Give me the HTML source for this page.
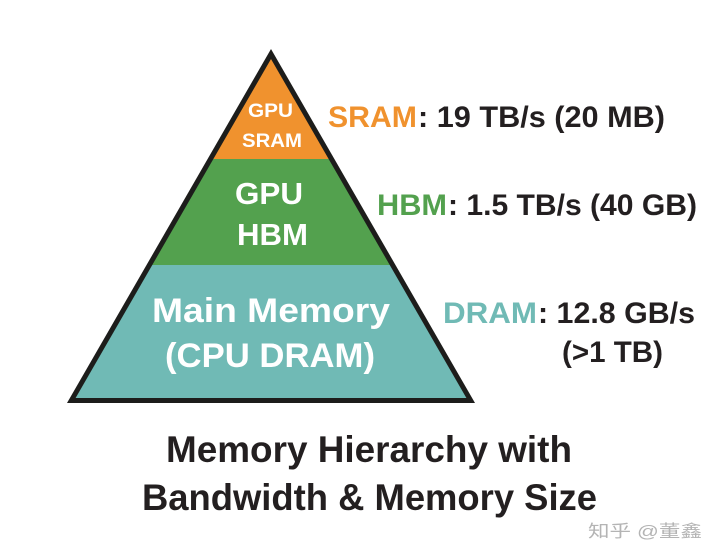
<!DOCTYPE html>
<html>
<head>
<meta charset="utf-8">
<style>
  html, body { margin: 0; padding: 0; background: #ffffff; }
  body { width: 720px; height: 559px; overflow: hidden; }
  svg { display: block; }
  text { font-family: "Liberation Sans", "Noto Sans CJK SC", sans-serif; font-weight: bold; }
</style>
</head>
<body>
<svg width="720" height="559" viewBox="0 0 720 559" xmlns="http://www.w3.org/2000/svg">
  <rect width="720" height="559" fill="#ffffff"/>
  <defs>
    <clipPath id="tri">
      <polygon points="271,59 466.4,398 75.6,398"/>
    </clipPath>
  </defs>
  <!-- outer black triangle (stroke) -->
  <polygon points="271,49 475,403 67,403" fill="#1d1d1b"/>
  <!-- bands -->
  <g clip-path="url(#tri)">
    <rect x="0" y="0" width="720" height="159" fill="#f0922e"/>
    <rect x="0" y="159" width="720" height="106" fill="#53a14e"/>
    <rect x="0" y="265" width="720" height="140" fill="#70bab5"/>
  </g>

  <!-- pyramid labels -->
  <text x="248" y="117" font-size="19" fill="#ffffff" textLength="45" lengthAdjust="spacingAndGlyphs">GPU</text>
  <text x="242" y="147" font-size="19" fill="#ffffff" textLength="60" lengthAdjust="spacingAndGlyphs">SRAM</text>

  <text x="235" y="204" font-size="31" fill="#ffffff" textLength="68" lengthAdjust="spacingAndGlyphs">GPU</text>
  <text x="237" y="245" font-size="31" fill="#ffffff" textLength="71" lengthAdjust="spacingAndGlyphs">HBM</text>

  <text x="152" y="322" font-size="34" fill="#ffffff" textLength="238" lengthAdjust="spacingAndGlyphs">Main Memory</text>
  <text x="165" y="367" font-size="34" fill="#ffffff" textLength="210" lengthAdjust="spacingAndGlyphs">(CPU DRAM)</text>

  <!-- right labels -->
  <text x="328" y="127" font-size="30" fill="#f0922e" textLength="89" lengthAdjust="spacingAndGlyphs">SRAM</text>
  <text x="418" y="127" font-size="30" fill="#231f20" textLength="247" lengthAdjust="spacingAndGlyphs">: 19 TB/s (20 MB)</text>

  <text x="377" y="215" font-size="30" fill="#53a14e" textLength="70" lengthAdjust="spacingAndGlyphs">HBM</text>
  <text x="448" y="215" font-size="30" fill="#231f20" textLength="249" lengthAdjust="spacingAndGlyphs">: 1.5 TB/s (40 GB)</text>

  <text x="443" y="323" font-size="30" fill="#70bab5" textLength="94" lengthAdjust="spacingAndGlyphs">DRAM</text>
  <text x="538" y="323" font-size="30" fill="#231f20" textLength="157" lengthAdjust="spacingAndGlyphs">: 12.8 GB/s</text>
  <text x="562" y="362" font-size="30" fill="#231f20" textLength="101" lengthAdjust="spacingAndGlyphs">(&gt;1 TB)</text>

  <!-- title -->
  <text x="166" y="462" font-size="37" fill="#231f20" textLength="406" lengthAdjust="spacingAndGlyphs">Memory Hierarchy with</text>
  <text x="142" y="510" font-size="37" fill="#231f20" textLength="455" lengthAdjust="spacingAndGlyphs">Bandwidth &amp; Memory Size</text>

  <!-- watermark -->
  <text x="588" y="537" font-size="17" fill="#b4b4b4" style="font-weight:normal" textLength="114" lengthAdjust="spacingAndGlyphs">知乎 @董鑫</text>
</svg>
</body>
</html>
